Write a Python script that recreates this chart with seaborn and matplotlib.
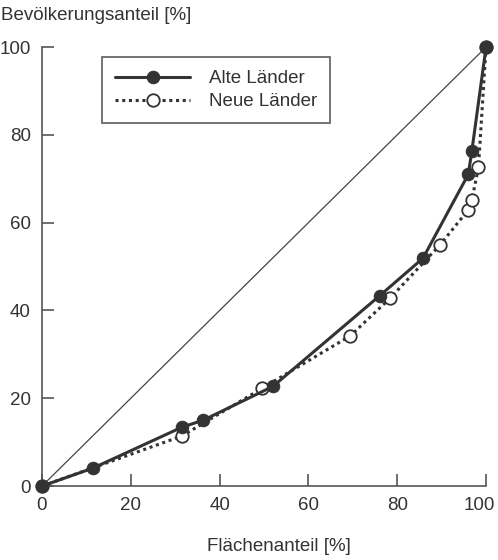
import pandas as pd
import matplotlib
matplotlib.use("Agg")
import matplotlib.pyplot as plt
import matplotlib.transforms as mtransforms
import seaborn as sns

# Lorenz curve data
alte_x = [0, 11.5, 31.5, 36.3, 52.0, 76.1, 85.8, 96.0, 96.8, 100]
alte_y = [0, 4.1, 13.4, 15.0, 22.7, 43.4, 51.9, 71.0, 76.3, 100]
neue_x = [0, 31.5, 49.6, 69.4, 78.4, 89.6, 96.0, 96.8, 98.3, 100]
neue_y = [0, 11.4, 22.3, 34.2, 42.8, 54.9, 62.9, 65.1, 72.7, 100]
ticks = [0, 20, 40, 60, 80, 100]

sns.set_style("ticks")
plt.rcParams['font.family'] = ['Liberation Sans Narrow', 'Liberation Sans', 'DejaVu Sans']
dark = "#333333"
fs = 13.5

fig = plt.figure(figsize=(4.98, 5.6), dpi=100)
ax = fig.add_axes([0.0843, 0.132, 0.8917, 0.784])

# diagonal of equal distribution
ax.plot([0, 100], [0, 100], color="#444444", lw=0.9, zorder=1)

df_alte = pd.DataFrame({"x": alte_x, "y": alte_y})
df_neue = pd.DataFrame({"x": neue_x, "y": neue_y})

sns.lineplot(data=df_neue, x="x", y="y", ax=ax, sort=False, color=dark,
             linestyle=(0, (1.0, 1.2)), lw=2.2, marker="o", markersize=9,
             markerfacecolor="white", markeredgecolor=dark, markeredgewidth=1.3,
             label="Neue Länder", clip_on=False, zorder=2)
sns.lineplot(data=df_alte, x="x", y="y", ax=ax, sort=False, color=dark,
             lw=2.2, marker="o", markersize=9, markerfacecolor=dark,
             markeredgecolor=dark, label="Alte Länder", clip_on=False, zorder=3)

ax.set_xlim(0, 100)
ax.set_ylim(0, 100)
ax.set_xticks(ticks)
ax.set_yticks(ticks)
ax.tick_params(direction="in", length=8.5, width=1.2, color="#555555",
               labelsize=fs, labelcolor=dark, pad=8)
for s in ["top", "right"]:
    ax.spines[s].set_visible(False)
for s in ["left", "bottom"]:
    ax.spines[s].set_color("#555555")
    ax.spines[s].set_linewidth(1.2)
ax.set_xlabel("")
ax.set_ylabel("")

# nudge the last x tick label so it stays inside the figure
last = ax.get_xticklabels()[-1]
last.set_transform(last.get_transform() +
                   mtransforms.ScaledTranslation(-5 / 72, 0, fig.dpi_scale_trans))

handles, labels = ax.get_legend_handles_labels()
leg = ax.legend(handles[::-1], labels[::-1], loc="upper left",
                bbox_to_anchor=(0.135, 0.977), fontsize=fs, frameon=True,
                fancybox=False, edgecolor=dark, handlelength=4.0,
                labelspacing=0.3, borderpad=0.7, handletextpad=1.0,
                borderaxespad=0)
leg.get_frame().set_linewidth(1.2)
for t in leg.get_texts():
    t.set_color(dark)

fig.text(0.002, 0.972, "Bevölkerungsanteil [%]", fontsize=fs, color=dark,
         ha="left", va="center")
fig.text(0.56, 0.024, "Flächenanteil [%]", fontsize=fs, color=dark,
         ha="center", va="center")

fig.savefig("out.png", dpi=100)
